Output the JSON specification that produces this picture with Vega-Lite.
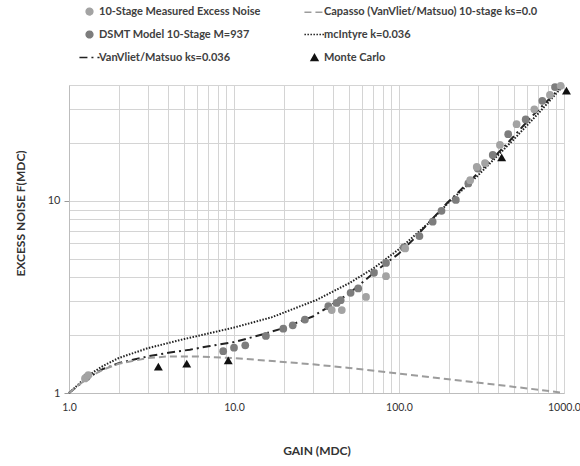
{
  "$schema": "https://vega.github.io/schema/vega-lite/v6.json",
  "width": 495,
  "height": 308,
  "autosize": {"type": "none"},
  "padding": {"left": 69, "top": 85, "right": 16, "bottom": 73},
  "config": {
    "font": "Lato",
    "view": {"stroke": null},
    "axis": {
      "gridColor": "#d4d4d4",
      "gridWidth": 1,
      "domainColor": "#bdbdbd",
      "labelFont": "Lato",
      "labelFontSize": 11,
      "labelColor": "#333333",
      "titleFont": "Lato",
      "titleFontSize": 12,
      "titleFontWeight": "bold",
      "titleColor": "#333333",
      "labelOverlap": false,
      "labelFlush": false
    }
  },
  "datasets": {
    "lines": [
      {"series": "VanVliet/Matsuo ks=0.036", "gain": 1, "noise": 1},
      {"series": "VanVliet/Matsuo ks=0.036", "gain": 1.3, "noise": 1.2},
      {"series": "VanVliet/Matsuo ks=0.036", "gain": 1.6, "noise": 1.33},
      {"series": "VanVliet/Matsuo ks=0.036", "gain": 2, "noise": 1.43},
      {"series": "VanVliet/Matsuo ks=0.036", "gain": 3, "noise": 1.55},
      {"series": "VanVliet/Matsuo ks=0.036", "gain": 4, "noise": 1.62},
      {"series": "VanVliet/Matsuo ks=0.036", "gain": 5.4, "noise": 1.68},
      {"series": "VanVliet/Matsuo ks=0.036", "gain": 7, "noise": 1.75},
      {"series": "VanVliet/Matsuo ks=0.036", "gain": 10, "noise": 1.84},
      {"series": "VanVliet/Matsuo ks=0.036", "gain": 15, "noise": 2.02},
      {"series": "VanVliet/Matsuo ks=0.036", "gain": 19, "noise": 2.15},
      {"series": "VanVliet/Matsuo ks=0.036", "gain": 30, "noise": 2.5},
      {"series": "VanVliet/Matsuo ks=0.036", "gain": 36, "noise": 2.75},
      {"series": "VanVliet/Matsuo ks=0.036", "gain": 50, "noise": 3.3},
      {"series": "VanVliet/Matsuo ks=0.036", "gain": 73.6, "noise": 4.35},
      {"series": "VanVliet/Matsuo ks=0.036", "gain": 100, "noise": 5.32},
      {"series": "VanVliet/Matsuo ks=0.036", "gain": 121, "noise": 6.24},
      {"series": "VanVliet/Matsuo ks=0.036", "gain": 195, "noise": 9.7},
      {"series": "VanVliet/Matsuo ks=0.036", "gain": 280, "noise": 13.1},
      {"series": "VanVliet/Matsuo ks=0.036", "gain": 427, "noise": 18.8},
      {"series": "VanVliet/Matsuo ks=0.036", "gain": 650, "noise": 27.9},
      {"series": "VanVliet/Matsuo ks=0.036", "gain": 960, "noise": 39},
      {"series": "mcIntyre  k=0.036", "gain": 1, "noise": 1},
      {"series": "mcIntyre  k=0.036", "gain": 1.3, "noise": 1.23},
      {"series": "mcIntyre  k=0.036", "gain": 1.6, "noise": 1.38},
      {"series": "mcIntyre  k=0.036", "gain": 2, "noise": 1.52},
      {"series": "mcIntyre  k=0.036", "gain": 3, "noise": 1.71},
      {"series": "mcIntyre  k=0.036", "gain": 5, "noise": 1.91},
      {"series": "mcIntyre  k=0.036", "gain": 7, "noise": 2.04},
      {"series": "mcIntyre  k=0.036", "gain": 10, "noise": 2.19},
      {"series": "mcIntyre  k=0.036", "gain": 17, "noise": 2.48},
      {"series": "mcIntyre  k=0.036", "gain": 31.7, "noise": 3.05},
      {"series": "mcIntyre  k=0.036", "gain": 50, "noise": 3.73},
      {"series": "mcIntyre  k=0.036", "gain": 70, "noise": 4.45},
      {"series": "mcIntyre  k=0.036", "gain": 100, "noise": 5.6},
      {"series": "mcIntyre  k=0.036", "gain": 150, "noise": 7.6},
      {"series": "mcIntyre  k=0.036", "gain": 200, "noise": 9.8},
      {"series": "mcIntyre  k=0.036", "gain": 300, "noise": 13.5},
      {"series": "mcIntyre  k=0.036", "gain": 500, "noise": 21},
      {"series": "mcIntyre  k=0.036", "gain": 700, "noise": 28.5},
      {"series": "mcIntyre  k=0.036", "gain": 960, "noise": 38.5},
      {"series": "Capasso (VanVliet/Matsuo) 10-stage ks=0.0", "gain": 1, "noise": 1},
      {"series": "Capasso (VanVliet/Matsuo) 10-stage ks=0.0", "gain": 1.3, "noise": 1.2},
      {"series": "Capasso (VanVliet/Matsuo) 10-stage ks=0.0", "gain": 1.6, "noise": 1.32},
      {"series": "Capasso (VanVliet/Matsuo) 10-stage ks=0.0", "gain": 2, "noise": 1.42},
      {"series": "Capasso (VanVliet/Matsuo) 10-stage ks=0.0", "gain": 3, "noise": 1.52},
      {"series": "Capasso (VanVliet/Matsuo) 10-stage ks=0.0", "gain": 4, "noise": 1.55},
      {"series": "Capasso (VanVliet/Matsuo) 10-stage ks=0.0", "gain": 6, "noise": 1.55},
      {"series": "Capasso (VanVliet/Matsuo) 10-stage ks=0.0", "gain": 10, "noise": 1.52},
      {"series": "Capasso (VanVliet/Matsuo) 10-stage ks=0.0", "gain": 20, "noise": 1.45},
      {"series": "Capasso (VanVliet/Matsuo) 10-stage ks=0.0", "gain": 30, "noise": 1.41},
      {"series": "Capasso (VanVliet/Matsuo) 10-stage ks=0.0", "gain": 50, "noise": 1.35},
      {"series": "Capasso (VanVliet/Matsuo) 10-stage ks=0.0", "gain": 100, "noise": 1.26},
      {"series": "Capasso (VanVliet/Matsuo) 10-stage ks=0.0", "gain": 200, "noise": 1.18},
      {"series": "Capasso (VanVliet/Matsuo) 10-stage ks=0.0", "gain": 400, "noise": 1.1},
      {"series": "Capasso (VanVliet/Matsuo) 10-stage ks=0.0", "gain": 700, "noise": 1.04},
      {"series": "Capasso (VanVliet/Matsuo) 10-stage ks=0.0", "gain": 1000, "noise": 1.0}
    ],
    "points": [
      {"series": "DSMT Model 10-Stage M=937", "gain": 1.28, "noise": 1.21},
      {"series": "DSMT Model 10-Stage M=937", "gain": 8.6, "noise": 1.65},
      {"series": "DSMT Model 10-Stage M=937", "gain": 10, "noise": 1.72},
      {"series": "DSMT Model 10-Stage M=937", "gain": 11.7, "noise": 1.77},
      {"series": "DSMT Model 10-Stage M=937", "gain": 15.6, "noise": 1.98},
      {"series": "DSMT Model 10-Stage M=937", "gain": 19.9, "noise": 2.16},
      {"series": "DSMT Model 10-Stage M=937", "gain": 22.7, "noise": 2.25},
      {"series": "DSMT Model 10-Stage M=937", "gain": 26.9, "noise": 2.41},
      {"series": "DSMT Model 10-Stage M=937", "gain": 37.3, "noise": 2.83},
      {"series": "DSMT Model 10-Stage M=937", "gain": 41.9, "noise": 2.94},
      {"series": "DSMT Model 10-Stage M=937", "gain": 44.3, "noise": 3.04},
      {"series": "DSMT Model 10-Stage M=937", "gain": 50.9, "noise": 3.32},
      {"series": "DSMT Model 10-Stage M=937", "gain": 56.6, "noise": 3.5},
      {"series": "DSMT Model 10-Stage M=937", "gain": 70.5, "noise": 4.22},
      {"series": "DSMT Model 10-Stage M=937", "gain": 83.4, "noise": 4.75},
      {"series": "DSMT Model 10-Stage M=937", "gain": 107, "noise": 5.72},
      {"series": "DSMT Model 10-Stage M=937", "gain": 133, "noise": 6.55},
      {"series": "DSMT Model 10-Stage M=937", "gain": 160, "noise": 7.78},
      {"series": "DSMT Model 10-Stage M=937", "gain": 181, "noise": 8.87},
      {"series": "DSMT Model 10-Stage M=937", "gain": 221, "noise": 10.1},
      {"series": "DSMT Model 10-Stage M=937", "gain": 263, "noise": 12.3},
      {"series": "DSMT Model 10-Stage M=937", "gain": 300, "noise": 14.7},
      {"series": "DSMT Model 10-Stage M=937", "gain": 370, "noise": 17.3},
      {"series": "DSMT Model 10-Stage M=937", "gain": 459, "noise": 22.2},
      {"series": "DSMT Model 10-Stage M=937", "gain": 586, "noise": 26.5},
      {"series": "DSMT Model 10-Stage M=937", "gain": 739, "noise": 33.1},
      {"series": "DSMT Model 10-Stage M=937", "gain": 882, "noise": 39},
      {"series": "10-Stage Measured Excess Noise", "gain": 1.25, "noise": 1.19},
      {"series": "10-Stage Measured Excess Noise", "gain": 1.31, "noise": 1.24},
      {"series": "10-Stage Measured Excess Noise", "gain": 39.1, "noise": 2.7},
      {"series": "10-Stage Measured Excess Noise", "gain": 45, "noise": 2.7},
      {"series": "10-Stage Measured Excess Noise", "gain": 63.1, "noise": 3.16},
      {"series": "10-Stage Measured Excess Noise", "gain": 83.4, "noise": 4.05},
      {"series": "10-Stage Measured Excess Noise", "gain": 109, "noise": 5.65},
      {"series": "10-Stage Measured Excess Noise", "gain": 270, "noise": 12.8},
      {"series": "10-Stage Measured Excess Noise", "gain": 296, "noise": 15.0},
      {"series": "10-Stage Measured Excess Noise", "gain": 332, "noise": 15.7},
      {"series": "10-Stage Measured Excess Noise", "gain": 409, "noise": 19.5},
      {"series": "10-Stage Measured Excess Noise", "gain": 516, "noise": 25.0},
      {"series": "10-Stage Measured Excess Noise", "gain": 661, "noise": 29.9},
      {"series": "10-Stage Measured Excess Noise", "gain": 822, "noise": 35.5},
      {"series": "10-Stage Measured Excess Noise", "gain": 954, "noise": 39.6},
      {"series": "Monte Carlo", "gain": 3.48, "noise": 1.37},
      {"series": "Monte Carlo", "gain": 5.17, "noise": 1.42},
      {"series": "Monte Carlo", "gain": 9.23, "noise": 1.48},
      {"series": "Monte Carlo", "gain": 419, "noise": 16.8},
      {"series": "Monte Carlo", "gain": 1035, "noise": 37.4}
    ]
  },
  "encoding": {
    "x": {
      "field": "gain",
      "type": "quantitative",
      "scale": {"type": "log", "domain": [1, 1000], "nice": false},
      "axis": {
        "title": "GAIN (MDC)",
        "values": [1,2,3,4,5,6,7,8,9,10,20,30,40,50,60,70,80,90,100,200,300,400,500,600,700,800,900,1000],
        "labelExpr": "datum.value == 1 || datum.value == 10 || datum.value == 100 || datum.value == 1000 ? format(datum.value, '.1f') : ''",
        "labelFontSize": 10.5,
        "ticks": false,
        "labelPadding": 9,
        "titlePadding": 33
      }
    },
    "y": {
      "field": "noise",
      "type": "quantitative",
      "scale": {"type": "log", "domain": [1, 40], "nice": false},
      "axis": {
        "title": "EXCESS NOISE F(MDC)",
        "values": [1,2,3,4,5,6,7,8,9,10,20,30,40],
        "labelExpr": "datum.value == 1 || datum.value == 10 ? format(datum.value, 'd') : ''",
        "tickSize": 5,
        "tickColor": "#999999",
        "tickOpacity": {"condition": {"test": "datum.value == 1 || datum.value == 10", "value": 1}, "value": 0},
        "labelPadding": 4,
        "titlePadding": 20,
        "titleY": 128
      }
    },
    "color": {
      "field": "series",
      "type": "nominal",
      "scale": {
        "domain": ["10-Stage Measured Excess Noise", "DSMT Model 10-Stage M=937", "VanVliet/Matsuo ks=0.036", "Capasso (VanVliet/Matsuo) 10-stage ks=0.0", "mcIntyre  k=0.036", "Monte Carlo"],
        "range": ["#a3a3a3", "#7d7d7d", "#222222", "#9c9c9c", "#222222", "#111111"]
      },
      "legend": {
        "title": null,
        "orient": "none",
        "legendX": 15,
        "legendY": -79,
        "columns": 2,
        "columnPadding": 40,
        "rowPadding": 10,
        "symbolSize": 45,
        "labelFont": "Lato",
        "labelFontSize": 11,
        "labelFontWeight": "bold",
        "labelColor": "#404040",
        "labelLimit": 400,
        "symbolStrokeWidth": 1.5,
        "encode": {
          "symbols": {
            "update": {
              "fill": {"scale": "color", "field": "value"},
              "stroke": {"scale": "color", "field": "value"}
            }
          }
        }
      }
    },
    "shape": {
      "field": "series",
      "type": "nominal",
      "scale": {
        "domain": ["10-Stage Measured Excess Noise", "DSMT Model 10-Stage M=937", "VanVliet/Matsuo ks=0.036", "Capasso (VanVliet/Matsuo) 10-stage ks=0.0", "mcIntyre  k=0.036", "Monte Carlo"],
        "range": ["circle", "circle", "M-3,0H3", "M-3,0H3", "M-3,0H3", "triangle-up"]
      }
    },
    "strokeDash": {
      "field": "series",
      "type": "nominal",
      "scale": {
        "domain": ["10-Stage Measured Excess Noise", "DSMT Model 10-Stage M=937", "VanVliet/Matsuo ks=0.036", "Capasso (VanVliet/Matsuo) 10-stage ks=0.0", "mcIntyre  k=0.036", "Monte Carlo"],
        "range": [[1, 0], [1, 0], [8, 4, 2, 4], [7, 4], [1.5, 1.5], [1, 0]]
      }
    }
  },
  "layer": [
    {
      "data": {"name": "lines"},
      "mark": {"type": "line", "strokeWidth": 2, "clip": false},
      "encoding": {"shape": null}
    },
    {
      "data": {"name": "points"},
      "mark": {"type": "point", "filled": true, "opacity": 1, "size": 60, "clip": false},
      "encoding": {"strokeDash": null, "size": {"condition": {"test": "datum.series == 'Monte Carlo'", "value": 80}, "value": 60}}
    }
  ]
}
